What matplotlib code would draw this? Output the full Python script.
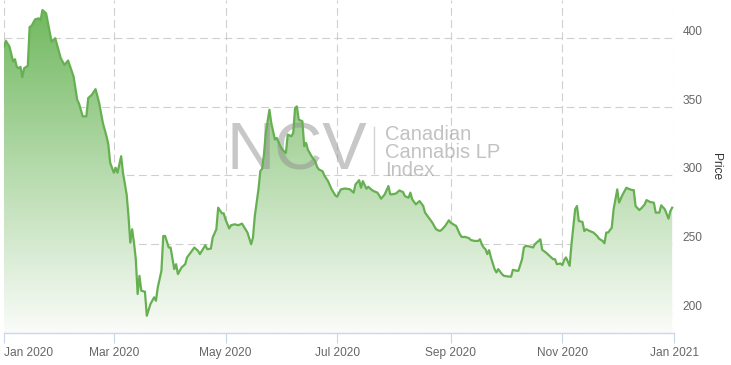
import numpy as np
import matplotlib
matplotlib.use("Agg")
import matplotlib.pyplot as plt
import matplotlib.dates as mdates
from matplotlib.lines import Line2D
from matplotlib.transforms import ScaledTranslation

plt.rcParams['font.family'] = ['Liberation Sans', 'DejaVu Sans']

# days since 2020-01-01 and index price
day = [0, 1, 3, 5, 6, 7, 8, 9, 10, 11, 13, 14, 15, 17, 19, 20, 21, 23, 26, 28,
       31, 33, 35, 38, 40, 41, 43, 45, 46, 48, 50, 52, 54, 56, 57, 58, 60, 61, 62, 64,
       65, 67, 68, 69, 70, 71, 72, 73, 74, 75, 77, 78, 80, 81, 82, 83, 84, 86, 87, 88,
       90, 91, 93, 94, 95, 97, 99, 100, 102, 104, 106, 107, 110, 111, 113, 114, 116, 117, 119, 120,
       121, 123, 124, 126, 128, 130, 131, 133, 135, 136, 137, 139, 140, 141, 142, 143, 145, 146, 148, 149,
       151, 152, 154, 155, 157, 158, 159, 160, 161, 163, 164, 165, 166, 168, 170, 171, 172, 174, 175, 177,
       179, 181, 182, 184, 186, 187, 189, 191, 192, 194, 195, 196, 198, 199, 201, 202, 204, 206, 208, 210,
       211, 212, 214, 216, 218, 219, 221, 222, 223, 225, 227, 229, 230, 232, 234, 236, 238, 239, 241, 243,
       244, 246, 247, 249, 250, 252, 254, 255, 257, 259, 260, 261, 262, 263, 264, 265, 266, 268, 269, 270,
       272, 273, 275, 277, 278, 280, 281, 283, 284, 285, 287, 289, 290, 292, 293, 294, 296, 298, 300, 301,
       302, 304, 305, 306, 307, 309, 310, 312, 313, 314, 316, 317, 318, 320, 322, 324, 325, 327, 328, 329,
       330, 332, 333, 335, 336, 338, 340, 341, 343, 344, 345, 347, 348, 350, 351, 353, 355, 356, 358, 359,
       361, 363, 364, 365]
price = [393.7, 398.0, 393.7, 382.8, 384.5, 379.0, 378.0, 379.0, 371.5, 378.0, 379.7, 408.0, 408.7, 413.5, 414.3, 413.0, 420.3, 417.9, 397.3, 399.8,
         385.3, 380.4, 383.6, 372.0, 355.0, 352.2, 343.0, 343.0, 356.3, 358.7, 362.8, 352.7, 338.2, 328.5, 322.5, 309.2, 302.0, 305.6, 302.0, 314.0,
         302.0, 286.2, 270.5, 251.2, 260.9, 251.2, 239.1, 213.8, 227.0, 216.2, 215.5, 198.0, 206.5, 208.9, 211.4, 208.9, 218.6, 230.7, 256.0, 256.0,
         247.6, 247.6, 231.9, 235.5, 228.3, 233.1, 235.5, 240.4, 244.0, 247.6, 245.2, 242.8, 249.3, 246.4, 246.8, 254.9, 260.9, 276.6, 272.5, 272.5,
         268.1, 261.5, 263.8, 264.5, 263.8, 265.0, 262.8, 258.5, 250.0, 254.9, 270.5, 289.9, 303.1, 304.9, 315.2, 331.0, 347.8, 338.2, 326.1, 327.3,
         321.2, 318.8, 316.4, 329.7, 328.5, 331.0, 349.1, 350.2, 340.6, 339.4, 321.2, 323.7, 318.8, 314.0, 310.4, 306.3, 304.4, 303.1, 300.0, 295.9,
         289.9, 285.5, 284.6, 289.9, 290.5, 290.4, 289.9, 287.5, 293.5, 296.6, 291.1, 295.9, 290.4, 291.8, 289.4, 288.6, 287.5, 283.1, 286.3, 292.3,
         286.3, 286.3, 286.8, 289.1, 287.9, 285.0, 283.8, 287.5, 282.6, 279.0, 281.4, 277.8, 273.0, 269.4, 265.7, 260.9, 259.6, 260.4, 263.3, 267.4,
         265.7, 264.0, 263.3, 257.3, 255.3, 255.3, 254.4, 253.1, 252.4, 252.4, 253.6, 250.0, 247.6, 246.4, 242.8, 245.7, 240.4, 231.9, 229.5, 231.9,
         228.3, 227.1, 226.6, 226.4, 231.4, 230.7, 230.7, 239.1, 247.6, 248.8, 248.4, 247.6, 250.0, 252.4, 253.6, 245.9, 244.0, 241.6, 239.1, 239.1,
         235.5, 236.0, 234.8, 238.5, 240.4, 234.3, 250.0, 275.4, 277.8, 266.9, 266.2, 259.6, 260.9, 259.6, 258.5, 256.0, 254.1, 252.4, 250.7, 258.5,
         258.5, 262.0, 275.4, 289.9, 280.3, 286.3, 291.1, 290.4, 289.4, 289.4, 277.8, 274.9, 275.9, 279.0, 282.1, 280.7, 280.2, 273.0, 273.0, 278.3,
         275.4, 268.6, 274.1, 276.6]

yticks = [200, 250, 300, 350, 400]
xtick_dates = ['2020-01-01', '2020-03-01', '2020-05-01', '2020-07-01',
               '2020-09-01', '2020-11-01', '2021-01-01']
xtick_labels = ['Jan 2020', 'Mar 2020', 'May 2020', 'Jul 2020',
                'Sep 2020', 'Nov 2020', 'Jan 2021']

dates = np.datetime64('2020-01-01') + np.array(day).astype('timedelta64[D]')
x = mdates.date2num(dates)
y = np.array(price)

fig = plt.figure(figsize=(7.31, 3.65), dpi=100)
ax = fig.add_axes([4 / 731, 1 - 333 / 365, 670 / 731, 333 / 365])

ymin, ymax = 185.45, 427.6
xmin = mdates.date2num(np.datetime64('2020-01-01'))
xmax = mdates.date2num(np.datetime64('2021-01-01'))
ax.set_xlim(xmin, xmax)
ax.set_ylim(ymin, ymax)

# gradient area under the line
poly = ax.fill_between(x, y, ymin, facecolor='none', edgecolor='none')
top = np.array([110, 183, 92]) / 255
bot = np.array([250, 252, 249]) / 255
t = np.linspace(0, 1, 256)[:, None]
grad = (top * (1 - t) + bot * t)[:, None, :]
im = ax.imshow(grad, extent=[xmin, xmax, ymin, ymax], aspect='auto',
               origin='upper', zorder=1)
im.set_clip_path(poly.get_paths()[0], transform=ax.transData)

ax.plot(x, y, color='#66b052', lw=1.6, zorder=4, solid_joinstyle='round')

# grid
ax.set_yticks(yticks)
ax.set_xticks(mdates.date2num(np.array(xtick_dates, dtype='datetime64[D]')))
ax.set_xticklabels(xtick_labels)
ax.grid(True, color='#cfcfcf', lw=0.8, linestyle=(0, (7, 4)), zorder=0)
ax.set_axisbelow(True)

for s in ['top', 'left', 'right']:
    ax.spines[s].set_visible(False)
ax.spines['bottom'].set_color('#ccd6eb')
ax.spines['bottom'].set_linewidth(1)

ax.yaxis.tick_right()
ax.yaxis.set_label_position('right')
ax.tick_params(axis='y', length=0, pad=6, labelsize=8.6, labelcolor='#666666')
ax.tick_params(axis='x', length=7, width=0.8, color='#ccd6eb', pad=3,
               labelsize=8.6, labelcolor='#666666')
for lab in ax.get_yticklabels():
    lab.set_transform(lab.get_transform() + ScaledTranslation(0, 0.075, fig.dpi_scale_trans))
xl = ax.get_xticklabels()
xl[0].set_horizontalalignment('left')
ax.set_ylabel('Price', rotation=270, fontsize=8.6, color='#333333', labelpad=14)

# watermark
ax.text(226 / 731, 1 - 152 / 365, 'NCV', transform=fig.transFigure, fontsize=48,
        color='#909090', alpha=0.5, va='center', ha='left', zorder=3, clip_on=False)
ax.add_line(Line2D([374 / 731, 374 / 731], [1 - 127 / 365, 1 - 173 / 365],
                   transform=fig.transFigure, color='#909090', alpha=0.4, lw=1, zorder=3))
for i, s in enumerate(['Canadian', 'Cannabis LP', 'Index']):
    ax.text(385 / 731, 1 - (135 + 18 * i) / 365, s, transform=fig.transFigure,
            fontsize=14.5, color='#909090', alpha=0.55, va='center', ha='left',
            zorder=3, clip_on=False)

fig.savefig('out.png', dpi=100)
